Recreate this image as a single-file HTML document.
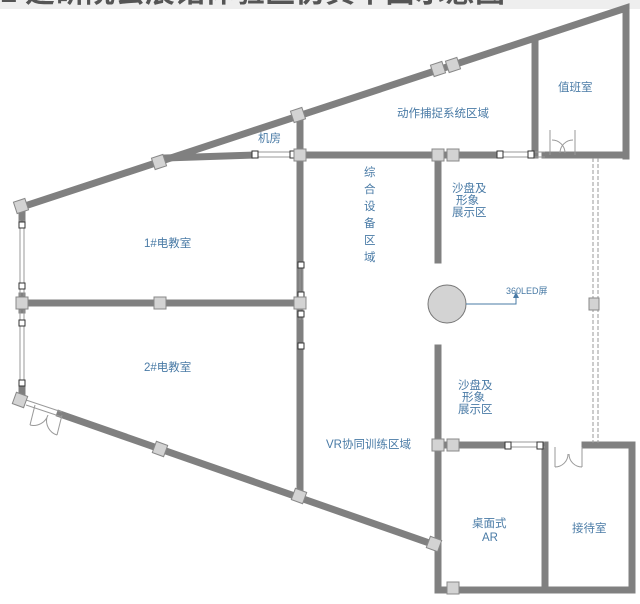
<!DOCTYPE html><html><head><meta charset="utf-8"><style>body{margin:0;background:#fff}svg{display:block}text{font-family:"Liberation Sans","Noto Sans CJK SC",sans-serif;fill:#4a7ba6;font-size:11.5px}</style></head><body>
<svg width="640" height="604" viewBox="0 0 640 604">
<rect x="0" y="0" width="640" height="9" fill="#eee"/>
<text x="0" y="2" style="font-size:30px;font-weight:bold;fill:#555">1 建研院会展馆体验区仿真平面示意图</text>
<g stroke="#808080" stroke-width="7" fill="none" stroke-linecap="square">
<path d="M22,207 L626,8 L626,156"/>
<path d="M165,158 L255,155"/>
<path d="M300,155 L500,155"/><path d="M545,155 L626,155"/>
<path d="M300,116 L300,497"/>
<path d="M535,42 L535,155"/>
<path d="M438,155 L438,260"/>
<path d="M438,348 L438,590 L632,590 L632,445 L585,445"/>
<path d="M438,445 L505,445"/>
<path d="M545,445 L545,590"/>
<path d="M22,303 L300,303"/>
<path d="M60,414 L435,545"/>
<path d="M22,207 L22,220"/><path d="M22,296 L22,310"/><path d="M22,385 L22,400"/>
</g>
<g stroke="#999" stroke-width="1" fill="none">
<path d="M20,220 V296 M24,220 V296 M20,310 V385 M24,310 V385"/>
<path d="M255,152 H300 M255,157 H300 M505,442 H545 M505,447 H545 M500,152 H545 M500,157 H545"/>
<path d="M300,262 V320 M303,262 V320"/>
<path d="M593,158 V443 M598,158 V443" stroke-dasharray="4,2"/>
<path d="M26,400 L62,412 M26,405 L62,417"/>
<path d="M550,130 v25 M552,140 a13,13 0 0 1 13,13 M575,130 v25 M573,140 a13,13 0 0 0 -13,13"/>
<path d="M555,447 v20 M555,467 a13,13 0 0 0 13,-13 M582,447 v20 M582,467 a13,13 0 0 1 -13,-13"/>
<path d="M35,405 l-5,20 M30,425 a15,15 0 0 0 18,-10 M62,415 l-5,20 M57,435 a15,15 0 0 1 -10,-18"/>
</g>
<g fill="#fff" stroke="#333" stroke-width="1">
<rect x="252" y="151" width="6" height="7"/><rect x="290" y="151" width="6" height="7"/>
<rect x="497" y="151" width="6" height="7"/><rect x="528" y="151" width="6" height="7"/>
<rect x="505" y="442" width="6" height="7"/><rect x="537" y="442" width="6" height="7"/>
<rect x="298" y="262" width="6" height="6"/><rect x="298" y="292" width="6" height="6"/><rect x="298" y="311" width="6" height="6"/><rect x="298" y="343" width="6" height="6"/>
<rect x="19" y="222" width="6" height="6"/><rect x="19" y="283" width="6" height="6"/><rect x="19" y="320" width="6" height="6"/><rect x="19" y="380" width="6" height="6"/>
</g>
<g fill="#d3d3d3" stroke="#888" stroke-width="1">
<rect x="15" y="200" width="12" height="12" transform="rotate(-18 21 206)"/>
<rect x="153" y="156" width="12" height="12" transform="rotate(-18 159 162)"/>
<rect x="292" y="109" width="12" height="12" transform="rotate(-18 298 115)"/>
<rect x="432" y="63" width="12" height="12" transform="rotate(-18 438 69)"/>
<rect x="447" y="59" width="12" height="12" transform="rotate(-18 453 65)"/>
<rect x="294" y="149" width="12" height="12"/>
<rect x="432" y="149" width="12" height="12"/><rect x="447" y="149" width="12" height="12"/>
<rect x="16" y="297" width="12" height="12"/><rect x="154" y="297" width="12" height="12"/><rect x="294" y="297" width="12" height="12"/>
<rect x="14" y="394" width="12" height="12" transform="rotate(20 20 400)"/>
<rect x="154" y="443" width="12" height="12" transform="rotate(20 160 449)"/>
<rect x="293" y="490" width="12" height="12" transform="rotate(20 299 496)"/>
<rect x="428" y="538" width="12" height="12" transform="rotate(20 434 544)"/>
<rect x="432" y="439" width="12" height="12"/><rect x="447" y="439" width="12" height="12"/>
<rect x="447" y="582" width="12" height="12"/>
<rect x="589" y="298" width="10" height="12"/>
</g>
<circle cx="447" cy="304" r="19" fill="#d3d3d3" stroke="#777"/>
<path d="M466,304 H516 V297" stroke="#4a7ba6" fill="none"/><path d="M513,298 L516,292 L519,298Z" fill="#4a7ba6"/>
<text x="506" y="294" style="font-size:9px">360LED屏</text>
<text x="558" y="91">值班室</text>
<text x="397" y="117">动作捕捉系统区域</text>
<text x="258" y="142">机房</text>
<text x="364" y="176">综</text><text x="364" y="193">合</text><text x="364" y="210">设</text><text x="364" y="227">备</text><text x="364" y="244">区</text><text x="364" y="261">域</text>
<g style="font-size:9.5px"><text x="452" y="192">沙盘及</text><text x="456" y="204">形象</text><text x="452" y="216">展示区</text>
<text x="458" y="389">沙盘及</text><text x="462" y="401">形象</text><text x="458" y="413">展示区</text></g>
<text x="144" y="247">1#电教室</text>
<text x="144" y="371">2#电教室</text>
<text x="326" y="448">VR协同训练区域</text>
<text x="472" y="527">桌面式</text><text x="482" y="541">AR</text>
<text x="572" y="532">接待室</text>
</svg></body></html>
